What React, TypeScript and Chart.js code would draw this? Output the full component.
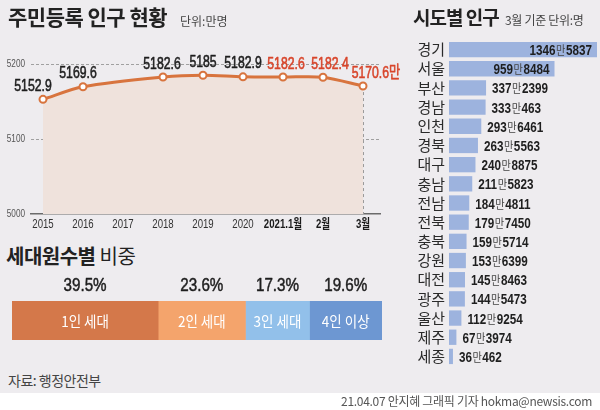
import React, { useEffect, useRef } from "react";
import { Chart, registerables } from "chart.js";

Chart.register(...registerables);

// ---------- DATA ----------
const yearLabels = ["2015", "2016", "2017", "2018", "2019", "2020", "2021.1월", "2월", "3월"];
const populationValues: (number | null)[] = [5152.9, 5169.6, null, 5182.6, 5185, 5182.9, 5182.6, 5182.4, 5170.6];
const populationTicks = [5000, 5100, 5200];

const householdLabels = ["1인 세대", "2인 세대", "3인 세대", "4인 이상"];
const householdShares = [39.5, 23.6, 17.3, 19.6];

const regionNames = ["경기", "서울", "부산", "경남", "인천", "경북", "대구", "충남", "전남", "전북", "충북", "강원", "대전", "광주", "울산", "제주", "세종"];
const regionPopulation = [13465837, 9598484, 3372399, 3330463, 2936461, 2635563, 2408875, 2115823, 1844811, 1797450, 1595714, 1536399, 1458463, 1445473, 1129254, 673974, 360462];

// ---------- STYLE ----------
const NUM = "'Liberation Sans', 'Noto Sans CJK KR', sans-serif";
const KR = "'Noto Sans CJK KR', sans-serif";
const BG = "#eeecef";
const ORANGE = "#d8743e";
const RED = "#d8452b";
const householdColors = ["#d4784a", "#f4a46c", "#92c0ea", "#6d97d2"];
const REGION_BAR = "#9db3de";

// draws horizontally condensed text (optionally slightly emboldened), returns drawn width
function condText(
  ctx: CanvasRenderingContext2D,
  text: string,
  x: number,
  y: number,
  sx: number,
  align: "left" | "center" | "right" = "left",
  weight = 0
) {
  const w = ctx.measureText(text).width * sx;
  const x0 = align === "center" ? x - w / 2 : align === "right" ? x - w : x;
  ctx.save();
  ctx.translate(x0, y);
  ctx.scale(sx, 1);
  ctx.textAlign = "left";
  ctx.fillText(text, 0, 0);
  if (weight > 0) {
    ctx.strokeStyle = ctx.fillStyle as string;
    ctx.lineWidth = weight;
    ctx.lineJoin = "round";
    ctx.strokeText(text, 0, 0);
  }
  ctx.restore();
  return w;
}

const lineLabelPlugin = {
  id: "lineLabels",
  beforeDatasetsDraw(chart: any) {
    const ctx = chart.ctx;
    const meta = chart.getDatasetMeta(0);
    const bottom = chart.chartArea.bottom;
    const xs = chart.scales.x;
    const ys = chart.scales.y;
    ctx.save();
    // y tick labels
    ctx.fillStyle = "#555";
    ctx.textBaseline = "middle";
    ctx.font = `10px ${NUM}`;
    populationTicks.forEach((v) => {
      condText(ctx, String(v), 25, ys.getPixelForValue(v), 0.82, "right");
    });
    // x tick labels
    yearLabels.forEach((lab, i) => {
      ctx.fillStyle = i >= 6 ? "#1a1a1a" : "#333";
      ctx.font = `${i >= 6 ? "bold " : ""}13px ${NUM}`;
      condText(ctx, lab, xs.getPixelForValue(i), bottom + 10, 0.74, "center");
    });
    // upward tick marks
    ctx.strokeStyle = "#555";
    ctx.lineWidth = 1;
    yearLabels.forEach((_, i) => {
      if (i >= 6) return;
      const x = Math.round(xs.getPixelForValue(i)) + 0.5;
      ctx.beginPath();
      ctx.moveTo(x, bottom);
      ctx.lineTo(x, bottom - 5);
      ctx.stroke();
    });
    // dashed verticals for 2021 months
    ctx.strokeStyle = "#9a9a9a";
    ctx.setLineDash([3, 3]);
    meta.data.forEach((pt: any, i: number) => {
      if (i < 6 || populationValues[i] == null) return;
      const x = Math.round(pt.x) + 0.5;
      ctx.beginPath();
      ctx.moveTo(x, pt.y);
      ctx.lineTo(x, bottom);
      ctx.stroke();
    });
    ctx.restore();
  },
  afterDatasetsDraw(chart: any) {
    const ctx = chart.ctx;
    const meta = chart.getDatasetMeta(0);
    const nudge = [-10, -5, 0, -1, 0, 0, 3, 7, 13];
    ctx.save();
    ctx.textBaseline = "middle";
    ctx.font = `16.5px ${NUM}`;
    meta.data.forEach((pt: any, i: number) => {
      const v = populationValues[i];
      if (v == null) return;
      ctx.fillStyle = i >= 6 ? RED : "#1e1e1e";
      const txt = i === populationValues.length - 1 ? `${v}만` : `${v}`;
      condText(ctx, txt, pt.x + nudge[i], pt.y - 13, 0.74, "center", 0.6);
    });
    ctx.restore();
  },
};

const stackLabelPlugin = {
  id: "stackLabels",
  afterDatasetsDraw(chart: any) {
    const ctx = chart.ctx;
    ctx.save();
    ctx.textBaseline = "middle";
    chart.data.datasets.forEach((ds: any, i: number) => {
      const bar = chart.getDatasetMeta(i).data[0];
      const cx = (bar.x + bar.base) / 2;
      ctx.fillStyle = "#fff";
      ctx.font = `15px ${KR}`;
      condText(ctx, householdLabels[i], cx, bar.y + 1, 0.9, "center");
      ctx.fillStyle = "#1e1e1e";
      ctx.font = `19px ${NUM}`;
      condText(ctx, `${householdShares[i]}%`, cx, bar.y - bar.height / 2 - 15, 0.8, "center", 0.5);
    });
    ctx.restore();
  },
};

const regionLabelPlugin = {
  id: "regionLabels",
  afterDatasetsDraw(chart: any) {
    const ctx = chart.ctx;
    const meta = chart.getDatasetMeta(0);
    ctx.save();
    ctx.textBaseline = "alphabetic";
    const numFont = `bold 15px ${NUM}`;
    const manFont = `12px ${KR}`;
    const sxN = 0.78;
    const sxM = 0.85;
    meta.data.forEach((bar: any, i: number) => {
      const v = regionPopulation[i];
      const a = String(Math.floor(v / 10000));
      const b = String(v % 10000);
      ctx.font = numFont;
      const wa = ctx.measureText(a).width * sxN;
      const wb = ctx.measureText(b).width * sxN;
      ctx.font = manFont;
      const wm = ctx.measureText("만").width * sxM;
      const total = wa + wm + wb + 1;
      const barW = bar.x - bar.base;
      let x = barW > total + 12 ? bar.x - 5 - total : bar.x + 6;
      const y = bar.y + 5.5;
      ctx.fillStyle = "#1e1e1e";
      ctx.font = numFont;
      x += condText(ctx, a, x, y, sxN);
      ctx.fillStyle = "#444";
      ctx.font = manFont;
      x += condText(ctx, "만", x + 0.5, y, sxM) + 1;
      ctx.fillStyle = "#1e1e1e";
      ctx.font = numFont;
      condText(ctx, b, x, y, sxN);
    });
    ctx.restore();
  },
};

function useChart(ref: React.RefObject<HTMLCanvasElement>, make: (c: HTMLCanvasElement) => Chart) {
  useEffect(() => {
    if (!ref.current) return;
    const ch = make(ref.current);
    return () => ch.destroy();
  }, []);
}

export default function App() {
  const lineRef = useRef<HTMLCanvasElement>(null);
  const stackRef = useRef<HTMLCanvasElement>(null);
  const regionRef = useRef<HTMLCanvasElement>(null);

  useChart(lineRef, (c) =>
    new Chart(c, {
      type: "line",
      data: {
        datasets: [
          {
            data: populationValues.map((v, i) => ({ x: i, y: v })) as any,
            borderColor: ORANGE,
            borderWidth: 3,
            tension: 0.3,
            spanGaps: true,
            fill: "start",
            backgroundColor: "#efe2dc",
            pointRadius: 3.5,
            pointBackgroundColor: "#fff",
            pointBorderColor: ORANGE,
            pointBorderWidth: 2,
            clip: false as any,
          },
        ],
      },
      options: {
        animation: false,
        responsive: false,
        layout: { padding: { left: 0, right: 30, top: 64, bottom: 6 } },
        plugins: { legend: { display: false }, tooltip: { enabled: false } },
        scales: {
          x: {
            type: "linear",
            min: -0.3,
            max: 8.425,
            afterBuildTicks: (s: any) => {
              s.ticks = yearLabels.map((_, i) => ({ value: i }));
            },
            afterFit: (s: any) => {
              s.height = 20;
            },
            grid: { display: false },
            border: { display: true, color: "#6b6b6b", width: 1.5 },
            ticks: { display: false },
          },
          y: {
            min: 5000,
            max: 5200,
            z: 1,
            afterBuildTicks: (s: any) => {
              s.ticks = populationTicks.map((v) => ({ value: v }));
            },
            afterFit: (s: any) => {
              s.width = 31;
            },
            grid: {
              drawTicks: false,
              lineWidth: 1,
              color: (ctx: any) => (ctx.tick && ctx.tick.value === 5000 ? "rgba(0,0,0,0)" : "#a0a0a0"),
            },
            border: { display: false, dash: [3, 2] },
            ticks: { display: false },
          },
        },
      },
      plugins: [lineLabelPlugin],
    } as any)
  );

  useChart(stackRef, (c) =>
    new Chart(c, {
      type: "bar",
      data: {
        labels: [""],
        datasets: householdLabels.map((l, i) => ({
          label: l,
          data: [householdShares[i]],
          backgroundColor: householdColors[i],
          barPercentage: 1,
          categoryPercentage: 1,
          borderWidth: 0,
        })),
      },
      options: {
        animation: false,
        responsive: false,
        indexAxis: "y",
        layout: { padding: { left: 12, right: 8, top: 31, bottom: 10 } },
        plugins: { legend: { display: false }, tooltip: { enabled: false } },
        scales: {
          x: { stacked: true, display: false, min: 0, max: 100 },
          y: { stacked: true, display: false },
        },
      },
      plugins: [stackLabelPlugin],
    } as any)
  );

  useChart(regionRef, (c) =>
    new Chart(c, {
      type: "bar",
      data: {
        labels: regionNames,
        datasets: [
          {
            data: regionPopulation,
            backgroundColor: REGION_BAR,
            barPercentage: 0.8,
            categoryPercentage: 1,
            borderWidth: 0,
          },
        ],
      },
      options: {
        animation: false,
        responsive: false,
        indexAxis: "y",
        layout: { padding: { left: 0, right: 3, top: 40, bottom: 44 } },
        plugins: { legend: { display: false }, tooltip: { enabled: false } },
        scales: {
          x: { display: false, min: 0, max: Math.max(...regionPopulation) },
          y: {
            afterFit: (s: any) => {
              s.width = 69;
            },
            grid: { display: false, drawTicks: false },
            border: { display: false },
            ticks: { padding: 4, autoSkip: false, color: "#2a2a2a", font: { family: KR, size: 15 } },
          },
        },
      },
      plugins: [regionLabelPlugin],
    } as any)
  );

  const abs = (l: number, t: number, extra: React.CSSProperties = {}): React.CSSProperties => ({
    position: "absolute",
    left: l,
    top: t,
    whiteSpace: "nowrap",
    lineHeight: 1,
    fontFamily: KR,
    ...extra,
  });

  return (
    <div style={{ position: "absolute", left: 0, top: 0, width: 600, height: 410, background: BG, overflow: "hidden" }}>
      <canvas ref={lineRef} width={410} height={240} style={{ position: "absolute", left: 0, top: 0, width: 410, height: 240 }} />
      <canvas ref={stackRef} width={390} height={80} style={{ position: "absolute", left: 0, top: 270, width: 390, height: 80 }} />
      <canvas ref={regionRef} width={220} height={410} style={{ position: "absolute", left: 380, top: 0, width: 220, height: 410 }} />

      <div style={abs(8, 6, { fontSize: 21, fontWeight: 700, color: "#222", letterSpacing: -0.5 })}>주민등록 인구 현황</div>
      <div style={abs(180, 15, { fontSize: 12, color: "#444" })}>단위:만명</div>

      <div style={abs(413, 7, { fontSize: 19, fontWeight: 700, color: "#222", letterSpacing: -1 })}>시도별 인구</div>
      <div style={abs(505, 14, { fontSize: 12, color: "#444", letterSpacing: -0.3 })}>3월 기준 단위:명</div>

      <div style={abs(6, 246, { fontSize: 20, color: "#222", letterSpacing: -0.5 })}>
        <span style={{ fontWeight: 700 }}>세대원수별</span> 비중
      </div>

      <div style={abs(8, 373, { fontSize: 14, color: "#444", letterSpacing: -0.5 })}>자료: 행정안전부</div>

      <div style={{ position: "absolute", left: 0, top: 393, width: 600, height: 17, background: "#fff" }}>
        <div style={{ position: "absolute", right: 8, top: 2, fontSize: 12, lineHeight: 1, color: "#555", fontFamily: KR, whiteSpace: "nowrap", letterSpacing: -0.3 }}>
          21.04.07 안지혜 그래픽 기자 hokma@newsis.com
        </div>
      </div>
    </div>
  );
}
